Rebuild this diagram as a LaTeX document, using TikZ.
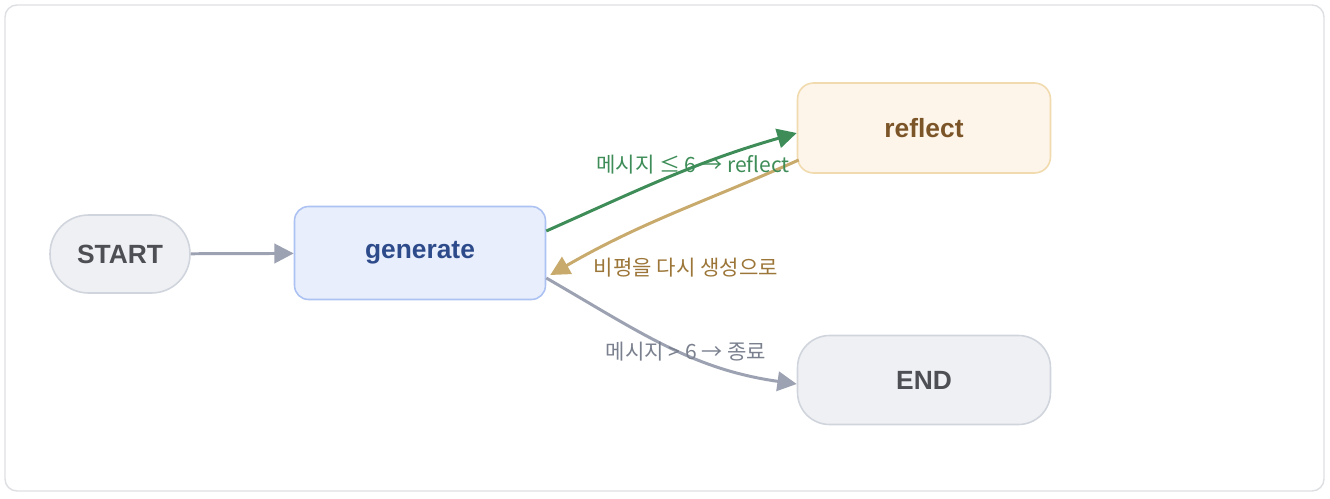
\documentclass[tikz,border=0pt]{standalone}
\usepackage{fontspec}
\setmainfont{Liberation Sans}
\newfontfamily\kofont{Noto Sans CJK KR}
\usetikzlibrary{arrows.meta, positioning}

\definecolor{frameline}{HTML}{DEDFE3}
\definecolor{greyfill}{HTML}{EFF0F4}
\definecolor{greyline}{HTML}{D0D4DC}
\definecolor{greytext}{HTML}{4D4F55}
\definecolor{bluefill}{HTML}{E8EEFC}
\definecolor{blueline}{HTML}{ABC2F2}
\definecolor{bluetext}{HTML}{2D4A8A}
\definecolor{tanfill}{HTML}{FDF5E9}
\definecolor{tanline}{HTML}{F0DAAE}
\definecolor{tantext}{HTML}{7B5428}
\definecolor{okgreen}{HTML}{3E8D58}
\definecolor{backtan}{HTML}{C8AA6C}
\definecolor{backtext}{HTML}{9C7638}
\definecolor{endgrey}{HTML}{9CA2B2}
\definecolor{endtext}{HTML}{7A808E}

\begin{document}
\begin{tikzpicture}[x=0.02cm, y=-0.02cm,
    box/.style={draw, line width=0.9pt, align=center, font=\fontsize{15}{17}\selectfont\bfseries},
    terminal/.style={box, fill=greyfill, draw=greyline, text=greytext},
    edgelabel/.style={font=\kofont\fontsize{12}{14}\selectfont, inner sep=1pt},
    flow/.style={line width=1.7pt, -{Triangle[length=11pt, width=11pt]}}]

    \useasboundingbox (0,0) rectangle (1330,498);
    \draw[frameline, line width=0.8pt, rounded corners=0.24cm] (5,5) rectangle (1324,491);

    \node[terminal, minimum width=2.8cm, minimum height=1.56cm, rounded corners=0.77cm] (start) at (120,254) {START};
    \node[box, fill=bluefill, draw=blueline, text=bluetext, minimum width=5.02cm, minimum height=1.86cm, rounded corners=0.28cm] (generate) at (420,253) {generate};
    \node[box, fill=tanfill, draw=tanline, text=tantext, minimum width=5.06cm, minimum height=1.8cm, rounded corners=0.32cm] (reflect) at (924,128) {reflect};
    \node[terminal, minimum width=5.06cm, minimum height=1.78cm, rounded corners=0.64cm] (end) at (924,380) {END};

    \draw[flow, endgrey] (start) -- (generate);
    \draw[flow, okgreen] ([yshift=0.44cm]generate.east) to[out=24, in=196] ([yshift=-0.1cm]reflect.west);
    \draw[flow, backtan] ([yshift=-0.64cm, xshift=0.04cm]reflect.west) to[out=204, in=30] ([yshift=-0.44cm, xshift=0.08cm]generate.east);
    \draw[flow, endgrey] ([yshift=-0.5cm]generate.east) to[out=-30, in=172] ([yshift=-0.08cm]end.west);

    \node[edgelabel, text=okgreen] (oklabel) at (693,165) {메시지 ≤ 6 → reflect};
    \node[edgelabel, text=backtext] (backlabel) at (686,268) {비평을 다시 생성으로};
    \node[edgelabel, text=endtext] (endlabel) at (686,352) {메시지 > 6 → 종료};

\end{tikzpicture}
\end{document}
